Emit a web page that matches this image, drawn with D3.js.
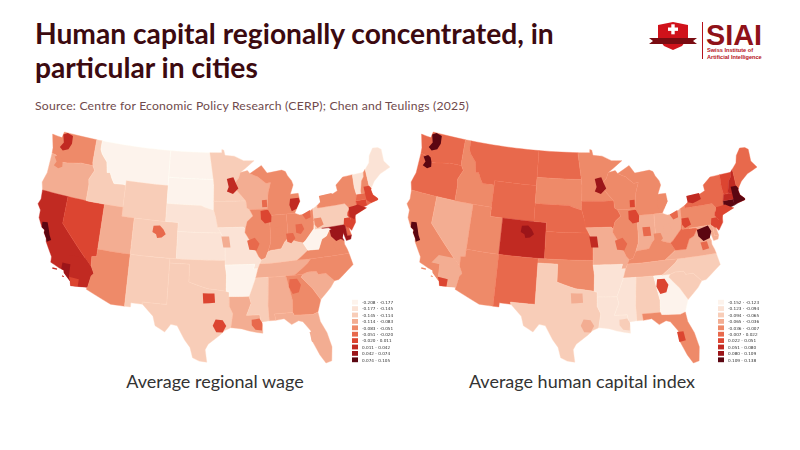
<!DOCTYPE html>
<meta charset="utf-8" />
<head>
  <style>
    body { margin: 0; background: #fff; }
    svg { display: block; }
  </style>
  <script src="https://d3js.org/d3.v7.min.js"></script>
</head>
<body>
  <svg width="800" height="450"></svg>
  <script>
    const stateNames = ["WA","OR","CA","NV","ID","MT","WY","UT","CO","AZ","NM","ND","SD","NE","KS","OK","TX","MN","IA","MO","AR","LA","WI","IL","IN","MI","OH","KY","TN","MS","AL","GA","FL","SC","NC","VA","WV","PA","NY","NJ","DE","MD","CT","RI","MA","VT","NH","ME"];
    // values (estimated from the colour class)
    const stateWage = [-.07,-.10,.025,-.005,-.13,-.19,-.145,-.10,-.13,-.07,-.13,-.19,-.19,-.16,-.16,-.13,-.13,-.13,-.13,-.16,-.18,-.10,-.10,-.07,-.07,-.07,-.07,-.13,-.10,-.13,-.10,-.07,-.10,-.10,-.07,-.07,-.19,-.13,-.07,-.005,-.035,.06,-.005,-.035,-.035,-.16,-.07,-.16];
    const stateCapital = [.01,.01,-.02,-.05,-.02,.01,.01,-.02,.065,-.02,.01,.01,-.02,.01,.01,-.02,-.08,-.02,.01,-.05,-.11,-.11,-.02,-.02,-.05,-.02,-.05,-.02,-.05,-.11,-.08,-.14,-.02,-.08,-.08,-.05,.01,-.02,.01,.035,-.05,-.05,.12,.12,.065,.035,.065,.01];

    const stateShapes = [
      [[-124.7,48.4],[-123,48.3],[-122.8,49],[-117.03,49],[-117.04,46.4],[-116.92,45.99],[-118.98,46],[-119.3,45.93],[-121.2,45.65],[-122.3,45.55],[-122.8,45.9],[-123.4,46.2],[-124.05,46.27],[-124.1,46.9]],
      [[-124.05,46.27],[-123.4,46.2],[-122.8,45.9],[-122.3,45.55],[-121.2,45.65],[-119.3,45.93],[-118.98,46],[-116.92,45.99],[-116.5,45.5],[-117.2,44.4],[-117.03,43.8],[-117.03,42],[-124.2,42],[-124.55,42.85],[-124.1,44]],
      [[-124.2,42],[-120,42],[-120,39],[-114.63,35],[-114.13,34.3],[-114.47,34],[-114.72,32.72],[-117.12,32.53],[-117.3,33],[-118.4,33.75],[-118.5,34.03],[-119.2,34.15],[-120.6,34.55],[-120.65,35.15],[-121.9,36.6],[-122,36.95],[-122.5,37.5],[-122.5,37.8],[-123,38],[-123.75,38.95],[-123.8,39.8],[-124.4,40.4],[-124.1,41]],
      [[-120,42],[-114.04,42],[-114.04,36.2],[-114.75,36.1],[-114.63,35],[-120,39]],
      [[-117.03,49],[-116.05,49],[-116.05,48],[-115.7,47.5],[-114.7,46.7],[-114.4,45.55],[-113.9,45.6],[-113.45,44.95],[-113,44.45],[-111.5,44.55],[-111.05,44.48],[-111.05,42],[-117.03,42],[-117.03,43.8],[-117.2,44.4],[-116.5,45.5],[-116.92,45.99],[-117.04,46.4]],
      [[-116.05,49],[-104.05,49],[-104.05,45],[-111.05,45],[-111.05,44.48],[-111.5,44.55],[-113,44.45],[-113.45,44.95],[-113.9,45.6],[-114.4,45.55],[-114.7,46.7],[-115.7,47.5],[-116.05,48]],
      [[-111.05,45],[-104.05,45],[-104.05,41],[-111.05,41]],
      [[-114.04,42],[-111.05,42],[-111.05,41],[-109.05,41],[-109.05,37],[-114.04,37]],
      [[-109.05,41],[-102.05,41],[-102.05,37],[-109.05,37]],
      [[-114.04,37],[-109.05,37],[-109.05,31.33],[-111.07,31.33],[-114.81,32.49],[-114.72,32.72],[-114.47,34],[-114.13,34.3],[-114.63,35],[-114.75,36.1],[-114.04,36.2]],
      [[-109.05,37],[-103,37],[-103.05,32],[-106.62,32],[-106.53,31.78],[-108.2,31.78],[-108.2,31.33],[-109.05,31.33]],
      [[-104.05,49],[-97.23,49],[-96.56,45.94],[-104.05,45.94]],
      [[-104.05,45.94],[-96.56,45.94],[-96.45,45.3],[-96.45,43.5],[-96.44,42.49],[-97.9,42.8],[-98.5,43],[-104.05,43]],
      [[-104.05,43],[-98.5,43],[-97.9,42.8],[-96.44,42.49],[-96.1,41.7],[-95.3,40],[-102.05,40],[-102.05,41],[-104.05,41]],
      [[-102.05,40],[-95.3,40],[-94.62,39.1],[-94.62,37],[-102.05,37]],
      [[-103,37],[-94.62,37],[-94.62,36.5],[-94.43,35.4],[-94.48,33.64],[-96,33.8],[-97.2,33.9],[-98.1,34.1],[-100,34.56],[-100,36.5],[-103,36.5]],
      [[-106.62,32],[-103.05,32],[-103,36.5],[-100,36.5],[-100,34.56],[-98.1,34.1],[-97.2,33.9],[-96,33.8],[-94.48,33.64],[-94.04,33.55],[-94.04,33.02],[-94.04,32],[-93.55,31.2],[-93.85,29.7],[-94.7,29.4],[-95.4,28.9],[-97,27.9],[-97.4,27.3],[-97.15,25.96],[-98.2,26.05],[-99.1,26.4],[-99.5,27.5],[-100.3,28.3],[-101.4,29.77],[-102.3,29.88],[-103.1,29],[-104.5,29.6],[-104.9,30.6],[-106.53,31.78]],
      [[-97.23,49],[-95.15,49],[-95.15,49.38],[-94.8,49.3],[-94.6,48.7],[-93,48.6],[-91.4,48.05],[-89.6,48],[-92,46.7],[-92.3,46.1],[-92.9,45.6],[-92.75,44.75],[-91.2,43.5],[-96.45,43.5],[-96.45,45.3],[-96.56,45.94]],
      [[-96.45,43.5],[-91.2,43.5],[-91.1,42.7],[-90.64,42.5],[-90.15,41.8],[-91.1,41.2],[-91.42,40.38],[-91.73,40.61],[-95.77,40.58],[-96.1,41.7],[-96.44,42.49]],
      [[-95.77,40.58],[-91.73,40.61],[-91.42,40.38],[-91.5,40],[-90.7,39],[-90.2,38.75],[-90.2,38.4],[-89.5,37.3],[-89.1,36.95],[-89.4,36.5],[-89.7,36],[-90.37,36],[-90.15,36.5],[-94.62,36.5],[-94.62,37],[-94.62,39.1],[-95.3,40]],
      [[-94.62,36.5],[-90.15,36.5],[-90.37,36],[-89.7,36],[-90.1,35],[-91.15,33],[-94.04,33.02],[-94.04,33.55],[-94.48,33.64],[-94.43,35.4]],
      [[-94.04,33.02],[-91.15,33],[-90.9,32.3],[-91.6,31],[-89.73,31],[-89.6,30.2],[-89.4,29.9],[-89.4,29],[-90.2,29.1],[-91.3,29.3],[-92.3,29.55],[-93.85,29.7],[-93.55,31.2],[-94.04,32]],
      [[-92.3,46.1],[-92,46.7],[-90.8,46.9],[-90.4,46.55],[-89.1,46.15],[-87.8,45.35],[-87,45.4],[-87.5,44.3],[-87.8,42.5],[-90.64,42.5],[-91.1,42.7],[-91.2,43.5],[-92.75,44.75],[-92.9,45.6]],
      [[-90.64,42.5],[-87.8,42.5],[-87.53,41.72],[-87.53,39.3],[-87.6,38.7],[-88.05,37.8],[-88.5,37.1],[-89.1,36.95],[-89.5,37.3],[-90.2,38.4],[-90.2,38.75],[-90.7,39],[-91.5,40],[-91.42,40.38],[-91.1,41.2],[-90.15,41.8]],
      [[-87.53,41.72],[-86.8,41.76],[-84.8,41.76],[-84.81,39.1],[-85.4,38.7],[-86,38],[-87.6,37.9],[-88.05,37.8],[-87.6,38.7],[-87.53,39.3]],
      // no lake in the source map, Michigan runs across Lake Michigan
      [[-90.4,46.55],[-88.4,47.4],[-87.5,46.5],[-85,46.7],[-84.4,46.5],[-84.1,46],[-83.5,45.4],[-83.3,44.9],[-83.9,43.9],[-82.6,43.9],[-82.45,43],[-83.1,42.2],[-83.45,41.73],[-84.8,41.76],[-86.8,41.76],[-87.53,41.72],[-87.8,42.5],[-87.5,44.3],[-87,45.4],[-87.8,45.35],[-89.1,46.15]],
      [[-84.8,41.76],[-83.45,41.73],[-82.7,41.5],[-81.7,41.5],[-80.52,42],[-80.52,40.64],[-80.7,39.8],[-81.7,39],[-82.2,38.6],[-82.6,38.4],[-83.7,38.65],[-84.81,39.1]],
      [[-89.4,36.5],[-88.07,36.5],[-83.68,36.6],[-81.97,37.54],[-82.6,38.4],[-83.7,38.65],[-84.81,39.1],[-85.4,38.7],[-86,38],[-87.6,37.9],[-88.05,37.8],[-88.5,37.1],[-89.1,36.95]],
      [[-90.1,35],[-88.2,35],[-84.32,35],[-82.2,36.15],[-81.68,36.59],[-83.68,36.6],[-88.07,36.5],[-89.4,36.5],[-89.7,36]],
      [[-91.15,33],[-90.1,35],[-88.2,35],[-88.47,31.9],[-88.4,30.3],[-89.6,30.2],[-89.73,31],[-91.6,31],[-90.9,32.3]],
      [[-88.2,35],[-85.6,35],[-84.9,32.3],[-85,31],[-87.6,31],[-87.5,30.3],[-88.4,30.3],[-88.47,31.9]],
      [[-85.6,35],[-83.1,35],[-83.35,34.7],[-81.9,33.4],[-80.85,32.05],[-81.45,30.75],[-82.2,30.55],[-84.86,30.7],[-85,31],[-84.9,32.3]],
      [[-87.6,31],[-85,31],[-84.86,30.7],[-82.2,30.55],[-81.45,30.75],[-81.25,29.7],[-80.5,28.4],[-80.05,26.8],[-80.3,25.3],[-81.1,25.15],[-81.8,26.1],[-82.7,27.8],[-82.7,28.8],[-83.7,29.9],[-84.3,30.05],[-85.3,29.7],[-86.3,30.4],[-87.5,30.3]],
      [[-83.1,35],[-82.35,35.2],[-81.05,35.15],[-80.8,34.8],[-79.67,34.8],[-78.55,33.86],[-79.2,33.2],[-80.85,32.05],[-81.9,33.4],[-83.35,34.7]],
      [[-84.32,35],[-83.1,35],[-82.35,35.2],[-81.05,35.15],[-80.8,34.8],[-79.67,34.8],[-78.55,33.86],[-77.9,33.9],[-76.5,34.7],[-75.5,35.25],[-75.85,36.55],[-81.68,36.59],[-82.2,36.15]],
      [[-83.68,36.6],[-81.68,36.59],[-75.85,36.55],[-76,37],[-76.3,37.6],[-76.3,38],[-77.05,38.4],[-77.05,38.85],[-77.5,39.1],[-77.75,39.3],[-78.35,39.4],[-78.9,38.8],[-79.65,38.55],[-80.3,37.5],[-81.97,37.54]],
      [[-81.97,37.54],[-80.3,37.5],[-79.65,38.55],[-78.9,38.8],[-78.35,39.4],[-77.75,39.3],[-78.4,39.65],[-79.48,39.72],[-80.52,39.72],[-80.52,40.64],[-80.7,39.8],[-81.7,39],[-82.2,38.6],[-82.6,38.4]],
      [[-80.52,42],[-79.76,42.27],[-79.76,42],[-75.35,42],[-74.7,41.35],[-75.1,40.95],[-75.2,40.65],[-74.72,40.15],[-75.42,39.8],[-75.79,39.72],[-79.48,39.72],[-80.52,39.72],[-80.52,40.64]],
      [[-79.76,42.27],[-79,42.7],[-79.05,43.25],[-77,43.3],[-76.2,43.55],[-76.3,44.2],[-75,44.95],[-73.35,45],[-73.4,43.6],[-73.25,42.75],[-73.5,42.05],[-73.5,41.3],[-73.65,41],[-72,41.05],[-73.9,40.55],[-74,41],[-74.7,41.35],[-75.35,42],[-79.76,42]],
      [[-74.7,41.35],[-74,41],[-74,40.5],[-74.1,39.75],[-74.9,38.95],[-75.5,39.5],[-74.72,40.15],[-75.2,40.65],[-75.1,40.95]],
      [[-75.79,39.72],[-75.42,39.8],[-75.05,38.45],[-75.7,38.46]],
      [[-79.48,39.72],[-75.79,39.72],[-75.7,38.46],[-75.05,38.45],[-75.25,38.03],[-75.95,37.95],[-76.3,39],[-76.5,38.4],[-76.3,38],[-77.05,38.4],[-77.05,38.85],[-77.5,39.1],[-77.75,39.3],[-78.4,39.65]],
      [[-73.5,42.05],[-71.8,42.02],[-71.85,41.32],[-73.65,41],[-73.5,41.3]],
      [[-71.8,42.02],[-71.38,42.02],[-71.15,41.48],[-71.85,41.32]],
      [[-73.5,42.05],[-73.25,42.75],[-72.46,42.73],[-71.3,42.7],[-70.8,42.87],[-70.65,42.3],[-70,41.8],[-70,41.65],[-71.15,41.48],[-71.38,42.02],[-71.8,42.02]],
      [[-73.35,45],[-71.5,45],[-71.6,44.5],[-72.05,44.1],[-72.45,43],[-72.46,42.73],[-73.25,42.75],[-73.4,43.6]],
      [[-71.5,45],[-71.1,45.3],[-70.98,43.4],[-70.7,43.07],[-70.8,42.87],[-71.3,42.7],[-72.46,42.73],[-72.45,43],[-72.05,44.1],[-71.6,44.5]],
      [[-71.1,45.3],[-70.3,45.9],[-70,46.7],[-69.2,47.45],[-68.3,47.35],[-67.8,47.07],[-67.8,45.7],[-67,44.85],[-68.8,44.4],[-70,43.75],[-70.7,43.07],[-70.98,43.4]]
    ];

    const metroNames = ["Seattle","Portland","San Francisco","Inland California","Los Angeles","San Diego","Santa Cruz Is.","Catalina","Denver","Dallas","Houston","New Orleans","Atlanta","Minneapolis","Milwaukee","Chicago","Detroit","Cleveland","Columbus","Cincinnati","Indianapolis","St. Louis","Kansas City","Washington","Philadelphia","New York","Boston","Buffalo","Pittsburgh","Tampa","Richmond"];
    const metroWage = [.025,-.07,.09,.025,.06,-.005,.025,.025,-.035,-.005,-.005,-.035,-.035,.025,-.035,-.005,.025,-.035,-.035,-.035,-.07,-.035,-.10,.06,-.005,.025,-.005,-.07,-.07,-.10,-.07];
    const metroCapital = [.12,.12,.12,-.05,-.02,.035,-.02,-.02,.095,-.05,-.05,-.08,.035,.095,.035,.035,-.02,.01,-.05,-.02,.01,.01,.065,.12,.035,.035,.12,.065,.035,.035,.01];
    const metroShapes = [
      [[-122.9,48.7],[-122.2,49],[-121.2,48.8],[-121.1,47.9],[-121.5,47.2],[-122.4,46.9],[-123,47.2],[-122.5,47.8]],
      [[-123.5,46],[-122.8,46.3],[-122.3,46.1],[-122,45.6],[-121.9,45.1],[-122.5,44.8],[-123.3,45],[-123,45.5]],
      [[-123.1,38.6],[-122.3,38.7],[-121.9,38],[-121.6,37.4],[-121.2,36.9],[-121.8,36.6],[-122,36.95],[-122.5,37.5],[-122.5,37.8],[-123,38]],
      [[-118,35.8],[-115.7,35.8],[-114.63,35],[-114.13,34.3],[-114.47,34],[-114.72,32.72],[-116.1,32.6],[-116.1,33.4],[-117.6,33.45],[-117.7,34.8],[-118.9,34.8]],
      [[-118.9,34.8],[-117.7,34.8],[-117.6,33.45],[-117.3,33],[-118.4,33.75],[-118.5,34.03],[-118.9,34.1]],
      [[-117.6,33.45],[-116.1,33.4],[-116.1,32.6],[-117.12,32.53],[-117.3,33]],
      [[-120.2,34.05],[-119.5,34.05],[-119.5,33.9],[-120.2,33.9]],
      [[-118.6,33.45],[-118.3,33.4],[-118.3,33.3],[-118.6,33.3]],
      [[-105.9,40.4],[-104.9,40.5],[-104.3,40.1],[-103.9,39.6],[-104.5,39.2],[-105.2,39.1],[-105.4,39.5],[-106,39.7]],
      [[-97.9,33.4],[-96.2,33.4],[-96.1,32.4],[-97.8,32.3]],
      [[-96,30.6],[-95,30.5],[-94.5,29.9],[-95,29.2],[-95.9,29.2],[-96.4,29.9]],
      [[-90.9,30.5],[-89.8,30.6],[-89.4,30.1],[-89.5,29.3],[-90.4,29.4],[-90.9,29.9]],
      [[-85.1,34.6],[-84,34.6],[-83.5,33.9],[-83.9,33.1],[-84.8,33],[-85.3,33.8]],
      [[-94.3,46],[-93.2,46.2],[-92.8,45.5],[-92.4,44.9],[-93.3,44.3],[-94.3,44.6],[-94,45.1]],
      [[-88.6,43.5],[-87.8,43.5],[-87.8,42.7],[-88.6,42.7]],
      [[-88.9,42.3],[-87.7,42.4],[-87.2,41.7],[-87.3,41],[-88.3,40.9],[-88.9,41.4]],
      [[-84,43.4],[-82.6,43.4],[-82.45,43],[-83.1,42.2],[-83.9,42],[-84.2,42.7]],
      [[-82.3,41.5],[-81,41.9],[-81,41.1],[-81.8,40.9]],
      [[-83.5,40.5],[-82.5,40.5],[-82.2,39.9],[-82.8,39.4],[-83.5,39.6]],
      [[-85.1,39.6],[-84,39.6],[-83.7,39],[-84.4,38.5],[-85,38.7]],
      [[-86.8,40.4],[-85.6,40.4],[-85.5,39.4],[-86.7,39.4]],
      [[-91.2,39.1],[-90,39.4],[-89.3,38.7],[-89.8,38],[-90.9,38.1]],
      [[-95.2,39.6],[-94,39.6],[-93.8,38.4],[-94.9,38.4]],
      [[-78.3,39.4],[-76.5,39.7],[-76.1,39],[-76.5,38.3],[-77.5,38.1],[-78.2,38.7]],
      [[-75.8,40.4],[-74.9,40.4],[-74.5,39.6],[-75.4,39.3],[-76,39.7]],
      [[-74.8,41.5],[-73.3,41.6],[-72,41.05],[-73.9,40.55],[-74.2,40.1],[-74.9,40.5]],
      [[-71.9,43.4],[-70.98,43.4],[-70.7,43.07],[-70.8,42.87],[-70.65,42.3],[-70,41.8],[-70,41.65],[-71.15,41.48],[-71.8,41.9]],
      [[-79.3,43.3],[-77.2,43.4],[-77,42.7],[-78.4,42.4],[-79.2,42.6]],
      [[-80.5,40.9],[-79.4,40.9],[-79.1,40.1],[-80.1,39.8],[-80.5,40.2]],
      [[-82.9,28.7],[-82,28.7],[-81.8,27.7],[-82.7,27.6]],
      [[-78,38],[-77,38],[-76.8,37.2],[-77.8,37.1]]
    ];

    const wageBreaks = [-0.208,-0.177,-0.145,-0.114,-0.083,-0.051,-0.020,0.011,0.042,0.074,0.105];
    const capitalBreaks = [-0.152,-0.123,-0.094,-0.065,-0.036,-0.007,0.022,0.051,0.080,0.109,0.138];
    const wageLabels = ["-0.208 - -0.177","-0.177 - -0.145","-0.145 - -0.114","-0.114 - -0.083","-0.083 - -0.051","-0.051 - -0.020","-0.020 - 0.011","0.011 - 0.042","0.042 - 0.074","0.074 - 0.105"];
    const capitalLabels = ["-0.152 - -0.123","-0.123 - -0.094","-0.094 - -0.065","-0.065 - -0.036","-0.036 - -0.007","-0.007 - 0.022","0.022 - 0.051","0.051 - 0.080","0.080 - 0.109","0.109 - 0.138"];
    const reds = ["#fdf3ec","#fbe3d6","#f8cdb8","#f3ad92","#ee8a69","#e8694c","#dc4531","#c12a22","#9c1519","#5b0611"];

    const titleLines = ["Human capital regionally concentrated, in","particular in cities"];
    const sourceText = "Source: Centre for Economic Policy Research (CERP); Chen and Teulings (2025)";

    const svg = d3.select("svg");

    svg.selectAll(".title").data(titleLines).enter().append("text")
      .attr("class", "title")
      .attr("x", 35)
      .attr("y", function (d, i) { return 44 + i * 34; })
      .attr("font-family", "Lato")
      .attr("font-weight", 700)
      .attr("font-size", 28.2)
      .attr("fill", "#3c0a10")
      .text(function (d) { return d; });

    svg.append("text")
      .attr("x", 35).attr("y", 110)
      .attr("font-family", "Lato")
      .attr("font-size", 12.2)
      .attr("letter-spacing", 0.2)
      .attr("fill", "#6f4a4c")
      .text(sourceText);

    // split long edges so shared borders stay on the same curve
    function densify(ring) {
      const out = [];
      const closed = ring.concat([ring[0]]);
      for (let i = 0; i < ring.length; i++) {
        const a = closed[i], b = closed[i + 1];
        const n = Math.max(Math.ceil(Math.max(Math.abs(a[0] - b[0]), Math.abs(a[1] - b[1]))), 1);
        for (let k = 0; k < n; k++) {
          out.push([a[0] + (b[0] - a[0]) * k / n, a[1] + (b[1] - a[1]) * k / n]);
        }
      }
      return out;
    }
    function toFeature(ring) {
      const d = densify(ring);
      return { type: "Feature", geometry: { type: "Polygon", coordinates: [d.concat([d[0]])] } };
    }
    const stateFeatures = stateShapes.map(toFeature);
    const metroFeatures = metroShapes.map(toFeature);

    function drawMap(box, breaks, labels, stateValues, metroValues, caption, captionX, legendX) {
      const projection = d3.geoConicEqualArea().rotate([95, 0]).center([0, 38]).parallels([20, 40]);
      // the source map is a little taller than true Albers, so x and y get their own scale
      const projected = stateShapes.flat().map(function (d) { return projection(d); });
      const xScale = d3.scaleLinear().domain(d3.extent(projected, function (d) { return d[0]; })).range([box[0][0], box[1][0]]);
      const yScale = d3.scaleLinear().domain(d3.extent(projected, function (d) { return d[1]; })).range([box[0][1], box[1][1]]);
      const planar = d3.geoTransform({
        point: function (x, y) {
          const p = projection([x, y]);
          this.stream.point(xScale(p[0]), yScale(p[1]));
        }
      });
      const path = d3.geoPath(planar);
      const color = d3.scaleThreshold().domain(breaks.slice(1, 10)).range(reds);

      const g = svg.append("g").style("filter", "blur(0.4px)");
      g.selectAll(".state").data(stateFeatures).enter().append("path")
        .attr("class", "state")
        .attr("d", path)
        .attr("fill", function (d, i) { return color(stateValues[i]); })
        .attr("stroke", function (d, i) { return d3.color(color(stateValues[i])).brighter(0.12); })
        .attr("stroke-width", 0.4);
      g.selectAll(".metro").data(metroFeatures).enter().append("path")
        .attr("class", "metro")
        .attr("d", path)
        .attr("fill", function (d, i) { return color(metroValues[i]); });

      const legendY = d3.scaleBand().domain(labels).range([299, 363]);
      const legend = svg.append("g").style("filter", "blur(0.3px)");
      legend.selectAll("rect").data(labels).enter().append("rect")
        .attr("x", legendX)
        .attr("y", function (d) { return legendY(d) + 0.8; })
        .attr("width", 6)
        .attr("height", legendY.bandwidth() - 1.6)
        .attr("fill", function (d, i) { return reds[i]; });
      legend.selectAll("text").data(labels).enter().append("text")
        .attr("x", legendX + 10)
        .attr("y", function (d) { return legendY(d) + 5; })
        .attr("font-family", "DejaVu Sans")
        .attr("font-size", 4.2)
        .attr("fill", "#333")
        .text(function (d) { return d; });

      svg.append("text")
        .attr("x", captionX).attr("y", 388)
        .attr("text-anchor", "middle")
        .attr("font-family", "Lato")
        .attr("font-size", 18)
        .attr("fill", "#333")
        .text(caption);
    }

    drawMap([[38, 132], [390, 363]], wageBreaks, wageLabels, stateWage, metroWage, "Average regional wage", 215, 352);
    drawMap([[407, 132], [757, 363]], capitalBreaks, capitalLabels, stateCapital, metroCapital, "Average human capital index", 582, 718);

    // logo
    const logo = svg.append("g");
    const logoRed = "#b5121b";
    logo.append("path")
      .attr("d", d3.line()([[658,25],[673,22],[688,25],[688,38],[682,46],[673,50],[664,46],[658,38]]))
      .attr("fill", "#d0121b");
    logo.append("path")
      .attr("d", d3.line()([[649,38],[697,38],[693,41],[697,44],[649,44],[653,41]]))
      .attr("fill", "#7a0c12");
    logo.append("rect").attr("x", 668).attr("y", 27.5).attr("width", 10).attr("height", 3.4).attr("fill", "#fff");
    logo.append("rect").attr("x", 671.3).attr("y", 24.3).attr("width", 3.4).attr("height", 10).attr("fill", "#fff");
    logo.append("rect").attr("x", 702).attr("y", 22).attr("width", 1).attr("height", 37).attr("fill", logoRed);
    logo.append("text").attr("x", 706).attr("y", 45).attr("font-family", "Liberation Sans").attr("font-weight", 700).attr("font-size", 29)
      .attr("textLength", 56).attr("lengthAdjust", "spacingAndGlyphs").attr("fill", "#8f1219").text("SIAI");
    logo.append("text").attr("x", 707).attr("y", 52).attr("font-family", "Liberation Sans").attr("font-weight", 700).attr("font-size", 5.6).attr("fill", logoRed).text("Swiss Institute of");
    logo.append("text").attr("x", 707).attr("y", 58.5).attr("font-family", "Liberation Sans").attr("font-weight", 700).attr("font-size", 5.6).attr("fill", logoRed).text("Artificial Intelligence");
  </script>
</body>
